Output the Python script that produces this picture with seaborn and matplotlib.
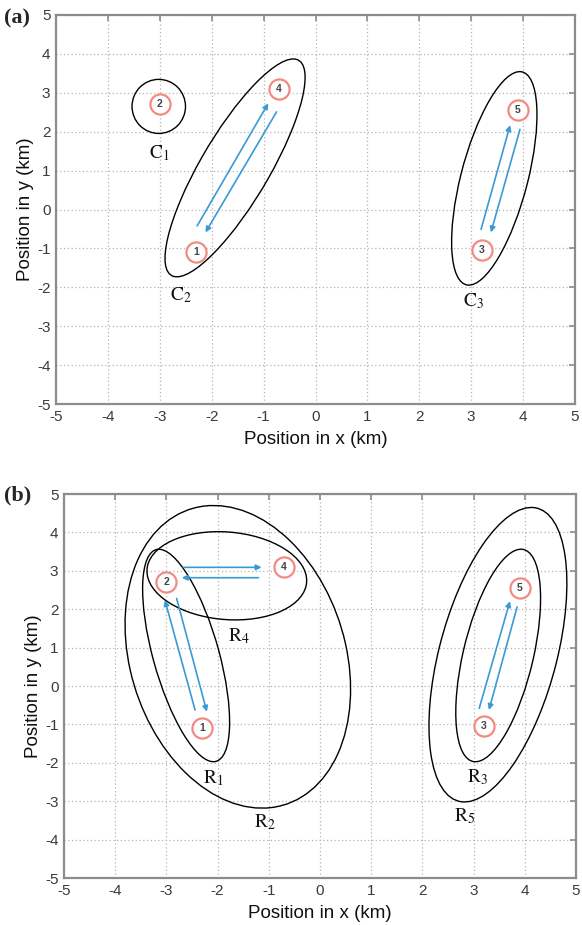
import numpy as np
import matplotlib
matplotlib.use("Agg")
import matplotlib.pyplot as plt
from matplotlib.patches import Ellipse
import seaborn as sns
import pandas as pd

# Node positions (km)
node_ids = [1, 2, 3, 4, 5]
node_x = [-2.3, -3.0, 3.2, -0.7, 3.9]
node_y = [-1.1, 2.7, -1.05, 3.1, 2.55]

# Panel (a) clusters: centre, full width, full height, rotation (deg)
clu_a_names = [r"$\mathrm{C}_1$", r"$\mathrm{C}_2$", r"$\mathrm{C}_3$"]
clu_a_cx = [-3.02, -1.55, 3.445]
clu_a_cy = [2.65, 1.07, 0.80]
clu_a_w = [1.03, 6.06, 5.58]
clu_a_h = [1.39, 1.39, 1.30]
clu_a_ang = [0.0, 66.9, 79.3]
clu_a_lx = [-3.0, -2.6, 3.05]
clu_a_ly = [1.45, -2.2, -2.35]

# Panel (b) regions
clu_b_names = [r"$\mathrm{R}_1$", r"$\mathrm{R}_2$", r"$\mathrm{R}_3$",
               r"$\mathrm{R}_4$", r"$\mathrm{R}_5$"]
clu_b_cx = [-2.615, -1.605, 3.48, -1.82, 3.475]
clu_b_cy = [0.795, 0.76, 0.795, 2.87, 0.815]
clu_b_w = [5.64, 7.96, 5.61, 3.14, 7.79]
clu_b_h = [1.30, 4.26, 1.38, 2.27, 2.32]
clu_b_ang = [101.5, 99.6, 80.3, -9.5, 79.4]
clu_b_lx = [-2.08, -1.07, 3.07, -1.58, 2.83]
clu_b_ly = [-2.4, -3.55, -2.38, 1.3, -3.4]

# Travel arrows: (x0, y0) -> (x1, y1)
arr_a_x0 = [-2.28, -0.75, 3.19, 3.94]
arr_a_y0 = [-0.42, 2.51, -0.51, 2.06]
arr_a_x1 = [-0.91, -2.12, 3.75, 3.38]
arr_a_y1 = [2.73, -0.59, 2.17, -0.59]

arr_b_x0 = [-2.44, -2.80, -2.67, -1.20, 3.11, 3.85]
arr_b_y0 = [-0.625, 2.28, 3.09, 2.82, -0.58, 2.06]
arr_b_x1 = [-3.03, -2.21, -1.14, -2.70, 3.71, 3.30]
arr_b_y1 = [2.24, -0.67, 3.09, 2.82, 2.21, -0.625]

ticks = list(range(-5, 6))

sns.set_style("white")
plt.rcParams["font.family"] = ["Liberation Sans", "DejaVu Sans"]
plt.rcParams["mathtext.fontset"] = "stix"
plt.rcParams["axes.unicode_minus"] = False

FRAME = "#8c8c8c"
TICKTXT = "#3a3a3a"
RING = "#f28b82"
ARROW = "#3a9ad6"

nodes = pd.DataFrame({"id": node_ids, "x": node_x, "y": node_y})

fig = plt.figure(figsize=(5.82, 9.25), dpi=100)
ax_a = fig.add_axes([56 / 582, 1 - 404 / 925, 519 / 582, 389 / 925])
ax_b = fig.add_axes([64 / 582, 1 - 878 / 925, 512 / 582, 384 / 925])


def style_axes(ax):
    ax.set_xlim(-5, 5)
    ax.set_ylim(-5, 5)
    ax.set_xticks(ticks)
    ax.set_yticks(ticks)
    ax.grid(True, color="#b5b5b5", linestyle=(0, (1, 2)), linewidth=0.9)
    ax.set_axisbelow(True)
    for s in ax.spines.values():
        s.set_color(FRAME)
        s.set_linewidth(1.6)
    ax.tick_params(direction="in", length=4, width=1.2, color=FRAME,
                   top=True, right=True, labelsize=11, labelcolor=TICKTXT,
                   pad=4)
    ax.set_xlabel("Position in x (km)", fontsize=13.5, color="#111111",
                  labelpad=5)
    ax.set_ylabel("Position in y (km)", fontsize=13.5, color="#111111",
                  labelpad=2)


def draw_nodes(ax):
    sns.scatterplot(data=nodes, x="x", y="y", ax=ax, s=210, marker="o",
                    facecolor="white", edgecolor=RING, linewidth=1.6,
                    zorder=5, legend=False)
    for i, x, y in zip(node_ids, node_x, node_y):
        ax.text(x, y, str(i), ha="center", va="center", fontsize=7.5,
                color="#444444", fontweight="bold", zorder=6)


def draw_clusters(ax, cx, cy, w, h, ang, names, lx, ly):
    for x, y, ww, hh, a in zip(cx, cy, w, h, ang):
        ax.add_patch(Ellipse((x, y), ww, hh, angle=a, fill=False,
                             edgecolor="black", linewidth=1.0, zorder=3))
    for n, x, y in zip(names, lx, ly):
        ax.text(x, y, n, ha="center", va="center", fontsize=14,
                color="#111111", zorder=4)


def draw_arrows(ax, x0, y0, x1, y1):
    for a, b, c, d in zip(x0, y0, x1, y1):
        ax.annotate("", xy=(c, d), xytext=(a, b),
                    arrowprops=dict(arrowstyle="-|>", color=ARROW, lw=1.2,
                                    mutation_scale=8, shrinkA=0, shrinkB=0),
                    zorder=4)


for ax in (ax_a, ax_b):
    style_axes(ax)

draw_clusters(ax_a, clu_a_cx, clu_a_cy, clu_a_w, clu_a_h, clu_a_ang,
              clu_a_names, clu_a_lx, clu_a_ly)
draw_arrows(ax_a, arr_a_x0, arr_a_y0, arr_a_x1, arr_a_y1)
draw_nodes(ax_a)

draw_clusters(ax_b, clu_b_cx, clu_b_cy, clu_b_w, clu_b_h, clu_b_ang,
              clu_b_names, clu_b_lx, clu_b_ly)
draw_arrows(ax_b, arr_b_x0, arr_b_y0, arr_b_x1, arr_b_y1)
draw_nodes(ax_b)

fig.text(4 / 582, 1 - 18 / 925, "(a)", fontsize=16, fontweight="bold",
         family=["Liberation Serif", "DejaVu Serif"], va="center", ha="left")
fig.text(4 / 582, 1 - 495 / 925, "(b)", fontsize=16, fontweight="bold",
         family=["Liberation Serif", "DejaVu Serif"], va="center", ha="left")

fig.savefig("out.png", dpi=100)
